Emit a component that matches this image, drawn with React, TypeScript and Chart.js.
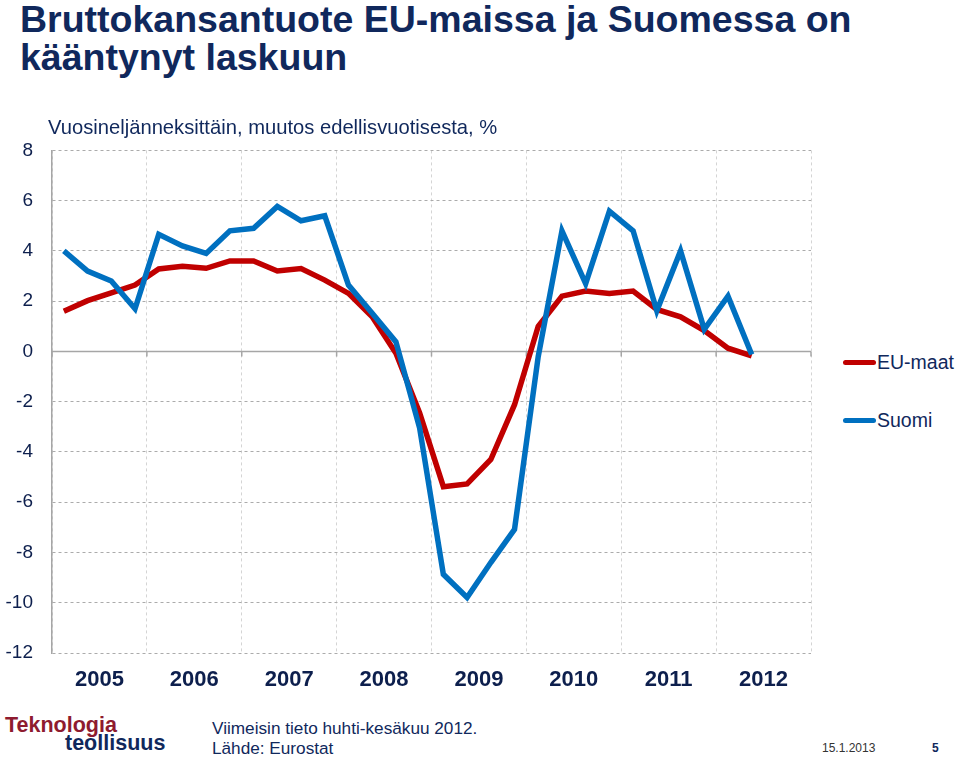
import React, { useEffect, useRef } from "react";
import { Chart, registerables } from "chart.js";

Chart.register(...registerables);

const years = ["2005", "2006", "2007", "2008", "2009", "2010", "2011", "2012"];
const quarters = [
  "2005Q1", "2005Q2", "2005Q3", "2005Q4",
  "2006Q1", "2006Q2", "2006Q3", "2006Q4",
  "2007Q1", "2007Q2", "2007Q3", "2007Q4",
  "2008Q1", "2008Q2", "2008Q3", "2008Q4",
  "2009Q1", "2009Q2", "2009Q3", "2009Q4",
  "2010Q1", "2010Q2", "2010Q3", "2010Q4",
  "2011Q1", "2011Q2", "2011Q3", "2011Q4",
  "2012Q1", "2012Q2", "2012Q3", "2012Q4",
];
const suomi = [
  4.0, 3.2, 2.8, 1.7,
  4.66, 4.2, 3.9, 4.8,
  4.9, 5.77, 5.2, 5.4,
  2.64, 1.52, 0.38, -3.05,
  -8.87, -9.79, -8.4, -7.08,
  -0.2, 4.8, 2.7, 5.58,
  4.8, 1.62, 4.0, 0.88,
  2.2, -0.12,
];
const euMaat = [
  1.6, 2.02, 2.33, 2.64,
  3.28, 3.39, 3.31, 3.6,
  3.6, 3.2, 3.3, 2.84,
  2.31, 1.38, -0.07, -2.45,
  -5.38, -5.27, -4.3, -2.12,
  1.0, 2.2, 2.4, 2.31,
  2.4, 1.67, 1.38, 0.83,
  0.13, -0.18,
];
const yMin = -12;
const yMax = 8;
const yStep = 2;

const FONT = "'Liberation Sans', Arial, Helvetica, sans-serif";
const NAVY = "#10285c";
const BLUE = "#0070c0";
const RED = "#c00000";

const zeroLinePlugin = {
  id: "zeroLine",
  beforeDatasetsDraw(chart: any) {
    const { ctx, chartArea, scales } = chart;
    const y0 = scales.y.getPixelForValue(0);
    const xs = scales.x;
    ctx.save();
    ctx.strokeStyle = "#a6a6a6";
    ctx.lineWidth = 1.5;
    ctx.setLineDash([]);
    ctx.beginPath();
    ctx.moveTo(chartArea.left, y0);
    ctx.lineTo(chartArea.right, y0);
    for (let i = 0; i <= years.length; i++) {
      const x = xs.getPixelForValue(i * 4 - 0.5);
      ctx.moveTo(x, y0);
      ctx.lineTo(x, y0 + 5);
    }
    ctx.stroke();
    ctx.restore();
  },
};

function ChartCanvas() {
  const ref = useRef<HTMLCanvasElement | null>(null);
  useEffect(() => {
    if (!ref.current) return;
    const chart = new Chart(ref.current, {
      type: "line",
      data: {
        labels: quarters,
        datasets: [
          {
            label: "Suomi",
            data: suomi,
            borderColor: BLUE,
            backgroundColor: BLUE,
            borderWidth: 5.5,
            pointRadius: 0,
            tension: 0,
            borderJoinStyle: "miter",
            borderCapStyle: "butt",
          },
          {
            label: "EU-maat",
            data: euMaat,
            borderColor: RED,
            backgroundColor: RED,
            borderWidth: 5.5,
            pointRadius: 0,
            tension: 0,
            borderJoinStyle: "miter",
            borderCapStyle: "butt",
          },
        ],
      },
      options: {
        animation: false,
        responsive: true,
        maintainAspectRatio: false,
        layout: { padding: { left: 0, right: 19, top: 0, bottom: 0 } },
        plugins: {
          legend: { display: false },
          tooltip: { enabled: false },
          title: { display: false },
        },
        scales: {
          x: {
            type: "category",
            offset: true,
            display: false,
          },
          x2: {
            type: "category",
            position: "bottom",
            labels: years,
            offset: true,
            grid: {
              offset: true,
              color: "#d4d4d4",
              lineWidth: 1,
              drawTicks: false,
            },
            border: { display: false, dash: [3, 3] },
            ticks: {
              color: "#0d1f4d",
              padding: 14,
              font: { family: FONT, size: 22, weight: "bold" },
              maxRotation: 0,
              autoSkip: false,
            },
            afterFit(scale: any) {
              scale.height = 57;
            },
          },
          y: {
            min: yMin,
            max: yMax,
            grid: {
              color: (c: any) => (c.tick && c.tick.value === 0 ? "rgba(0,0,0,0)" : "#ababab"),
              lineWidth: 1,
              drawTicks: false,
            },
            border: { display: true, color: "#a6a6a6", width: 1.5, dash: [3, 3] },
            ticks: {
              stepSize: yStep,
              color: "#0d1f4d",
              padding: 19,
              font: { family: FONT, size: 19 },
            },
            afterFit(scale: any) {
              scale.width = 52;
            },
          },
        },
      },
      plugins: [zeroLinePlugin],
    } as any);
    return () => chart.destroy();
  }, []);
  return <canvas ref={ref} />;
}

export default function App() {
  const abs = (s: React.CSSProperties): React.CSSProperties => ({
    position: "absolute",
    whiteSpace: "nowrap",
    fontFamily: FONT,
    margin: 0,
    ...s,
  });
  return (
    <div
      style={{
        position: "absolute",
        left: 0,
        top: 0,
        width: 960,
        height: 759,
        background: "#ffffff",
        overflow: "hidden",
      }}
    >
      <div style={{ position: "absolute", left: 0, top: 120, width: 830, height: 590 }}>
        <ChartCanvas />
      </div>

      <div
        style={abs({
          left: 20,
          top: 0,
          fontSize: 37.5,
          lineHeight: "38px",
          fontWeight: "bold",
          color: NAVY,
        })}
      >
        Bruttokansantuote EU-maissa ja Suomessa on
        <br />
        kääntynyt laskuun
      </div>
      <div style={abs({ left: 48, top: 117, fontSize: 20.2, lineHeight: "20px", color: NAVY })}>
        Vuosineljänneksittäin, muutos edellisvuotisesta, %
      </div>

      {/* legend */}
      <div style={abs({ left: 843, top: 350, height: 24, display: "flex", alignItems: "center" })}>
        <span style={{ display: "inline-block", width: 33, height: 5, borderRadius: 3, background: RED }} />
        <span style={{ fontSize: 19.5, color: NAVY, marginLeft: 1 }}>EU-maat</span>
      </div>
      <div style={abs({ left: 843, top: 408, height: 24, display: "flex", alignItems: "center" })}>
        <span style={{ display: "inline-block", width: 33, height: 5, borderRadius: 3, background: BLUE }} />
        <span style={{ fontSize: 19.5, color: NAVY, marginLeft: 1 }}>Suomi</span>
      </div>

      {/* footer */}
      <div style={abs({ left: 5, top: 715, fontSize: 21.5, lineHeight: "21px", fontWeight: "bold", color: "#8e1b2f" })}>
        Teknologia
      </div>
      <div style={abs({ left: 65, top: 733, fontSize: 21.5, lineHeight: "21px", fontWeight: "bold", color: "#10285c" })}>
        teollisuus
      </div>
      <div style={abs({ left: 212, top: 718, fontSize: 17.2, lineHeight: "20px", color: NAVY })}>
        Viimeisin tieto huhti-kesäkuu 2012.
        <br />
        Lähde: Eurostat
      </div>
      <div style={abs({ left: 822, top: 741, fontSize: 12, lineHeight: "14px", color: "#333333" })}>
        15.1.2013
      </div>
      <div style={abs({ left: 932, top: 741, fontSize: 12, lineHeight: "14px", fontWeight: "bold", color: NAVY })}>
        5
      </div>
    </div>
  );
}
